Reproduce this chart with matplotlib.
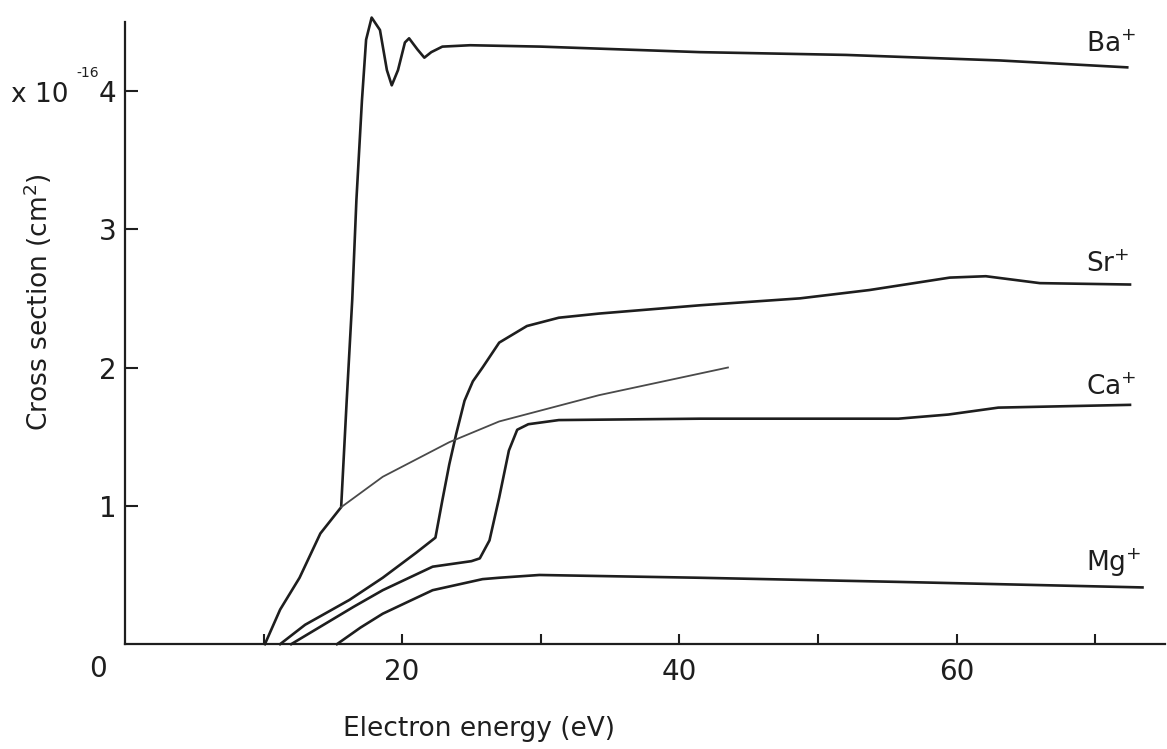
import matplotlib
matplotlib.use("Agg")
import matplotlib.pyplot as plt
import numpy as np

# values (energy in eV, cross section in 1e-16 cm^2)
ba_x = [10.1, 11.2, 12.6, 14.1, 15.6, 16.0, 16.4, 16.7, 17.1, 17.4, 17.8, 18.4, 18.9,
        19.25, 19.7, 20.2, 20.5, 21.1, 21.6, 22.1, 22.9, 24.9, 30.0, 41.5, 52.0, 63.1, 72.3]
ba_y = [0.0, 0.25, 0.48, 0.80, 0.99, 1.76, 2.49, 3.21, 3.93, 4.37, 4.53, 4.44, 4.15,
        4.04, 4.15, 4.35, 4.38, 4.30, 4.24, 4.28, 4.32, 4.33, 4.32, 4.28, 4.26, 4.22, 4.17]

ba_ext_x = [15.6, 18.6, 23.4, 27.0, 34.2, 43.5]
ba_ext_y = [0.99, 1.21, 1.46, 1.61, 1.80, 2.00]

sr_x = [11.2, 13.0, 16.2, 18.6, 21.0, 22.4, 22.9, 23.4, 23.9, 24.5, 25.1, 25.8, 27.0,
        29.0, 31.3, 34.2, 41.5, 48.7, 53.7, 59.5, 62.1, 66.0, 72.5]
sr_y = [0.0, 0.14, 0.32, 0.48, 0.66, 0.77, 1.04, 1.30, 1.52, 1.76, 1.90, 2.00, 2.18,
        2.30, 2.36, 2.39, 2.45, 2.50, 2.56, 2.65, 2.66, 2.61, 2.60]

ca_x = [12.0, 14.0, 16.5, 18.6, 22.2, 25.0, 25.6, 26.3, 27.0, 27.7, 28.3, 29.1, 31.3,
        41.5, 55.8, 59.4, 63.0, 72.5]
ca_y = [0.0, 0.12, 0.27, 0.39, 0.56, 0.60, 0.62, 0.75, 1.06, 1.40, 1.55, 1.59, 1.62,
        1.63, 1.63, 1.66, 1.71, 1.73]

mg_x = [15.3, 17.0, 18.6, 20.5, 22.2, 25.8, 27.0, 29.9, 41.4, 55.8, 73.4]
mg_y = [0.0, 0.12, 0.22, 0.31, 0.39, 0.47, 0.48, 0.50, 0.48, 0.45, 0.41]

ion_labels = ["Ba", "Sr", "Ca", "Mg"]
label_y = [4.33, 2.74, 1.85, 0.59]

ink = "#1e1e1e"
plt.rcParams["font.family"] = ["DejaVu Sans"]

fig = plt.figure(figsize=(11.67, 7.49), dpi=100)
ax = fig.add_axes([0.107, 0.140, 0.891, 0.831])

for xs, ys in [(ba_x, ba_y), (sr_x, sr_y), (ca_x, ca_y), (mg_x, mg_y)]:
    ax.plot(xs, ys, color=ink, lw=1.9, clip_on=False)
ax.plot(ba_ext_x, ba_ext_y, color="#4a4a4a", lw=1.3)

for name, yy in zip(ion_labels, label_y):
    ax.text(69.3, yy, name + "$^{+}$", fontsize=19, color=ink, va="center", ha="left")

ax.set_xlim(0, 75)
ax.set_ylim(0, 4.5)
ax.spines["top"].set_visible(False)
ax.spines["right"].set_visible(False)
for s in ["left", "bottom"]:
    ax.spines[s].set_linewidth(1.6)
    ax.spines[s].set_color(ink)

ax.set_xticks([10, 20, 30, 40, 50, 60, 70])
ax.set_xticklabels(["", "20", "", "40", "", "60", ""])
ax.set_yticks([1, 2, 3, 4])
ax.set_yticklabels(["1", "2", "3", "4"])
ax.tick_params(axis="x", direction="in", length=7, width=1.5, labelsize=20, pad=10, colors=ink)
ax.tick_params(axis="y", direction="in", length=9, width=1.5, labelsize=20, pad=6, colors=ink)

ax.text(-1.3, -0.08, "0", fontsize=20, color=ink, ha="right", va="top")
# multiplier next to the "4" tick label
ax.text(-8.2, 3.97, "x 10", fontsize=19, color=ink, ha="left", va="center")
ax.text(-3.5, 4.13, "-16", fontsize=10, color=ink, ha="left", va="center")

ax.set_xlabel("Electron energy (eV)", fontsize=19, color=ink)
ax.xaxis.set_label_coords(0.341, -0.115)
ax.set_ylabel("Cross section (cm$^{2}$)", fontsize=19, color=ink)
ax.yaxis.set_label_coords(-0.068, 0.55)

fig.savefig("out.png", dpi=100)
